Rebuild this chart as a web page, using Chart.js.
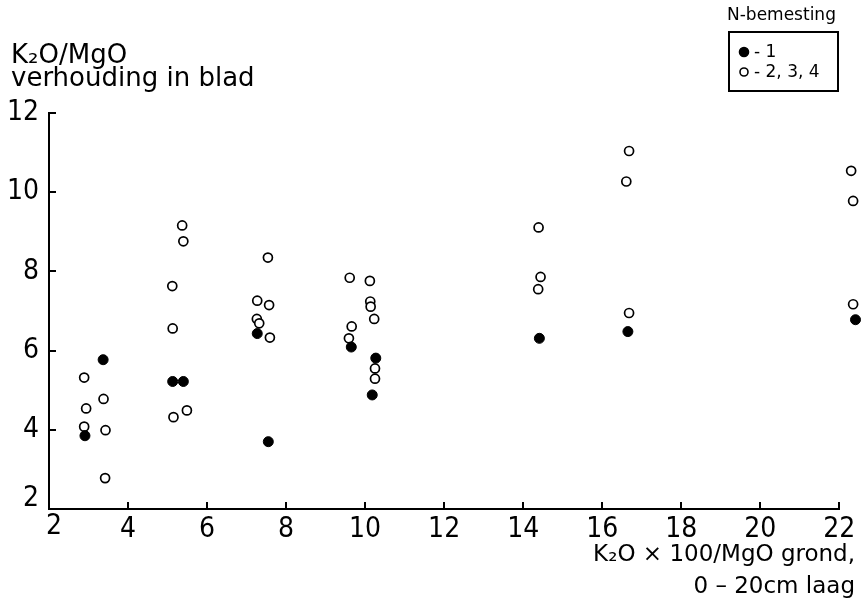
<!DOCTYPE html>
<html>
<head>
<meta charset="utf-8">
<script src="https://cdn.jsdelivr.net/npm/chart.js@4/dist/chart.umd.min.js"></script>
<style>
  html, body { margin: 0; padding: 0; background: #fff; }
  #wrap { width: 865px; height: 609px; position: relative; }
</style>
</head>
<body>
<div id="wrap"><canvas id="c" width="865" height="609"></canvas></div>
<script>
// ---- data ----
const xTicks = [2, 4, 6, 8, 10, 12, 14, 16, 18, 20, 22];
const yTicks = [2, 4, 6, 8, 10, 12];

const seriesLabels = ['- 1', '- 2, 3, 4'];
const legendTitle = 'N-bemesting';
const yTitleLines = ['K\u2082O/MgO', 'verhouding in blad'];
const xTitleLines = ['K\u2082O \u00d7 100/MgO grond,', '0 \u2013 20cm laag'];

// N-bemesting 1 (filled dots)
const n1X = [2.91, 3.37, 5.13, 5.40, 7.27, 7.55, 9.65, 10.27, 10.18, 14.41, 16.65, 22.41];
const n1Y = [3.85, 5.77, 5.22, 5.22, 6.43, 3.70, 6.09, 5.81, 4.88, 6.31, 6.48, 6.78];

// N-bemesting 2, 3, 4 (open circles)
const n234X = [2.89, 2.94, 2.89, 3.38, 3.43, 3.42,
               5.12, 5.13, 5.15, 5.49, 5.37, 5.40,
               7.27, 7.57, 7.26, 7.32, 7.59, 7.54,
               9.61, 9.66, 9.59, 10.12, 10.13, 10.14, 10.23, 10.25, 10.25,
               14.39, 14.44, 14.38,
               16.68, 16.61, 16.68,
               22.30, 22.35, 22.35];
const n234Y = [5.32, 4.54, 4.08, 4.78, 3.99, 2.78,
               7.63, 6.56, 4.32, 4.49, 9.16, 8.76,
               7.26, 7.15, 6.80, 6.69, 6.33, 8.35,
               7.84, 6.61, 6.31, 7.76, 7.24, 7.11, 6.80, 5.55, 5.29,
               9.11, 7.86, 7.55,
               11.04, 10.27, 6.95,
               10.54, 9.78, 7.17];

const toPts = (xs, ys) => xs.map((x, i) => ({ x: x, y: ys[i] }));

const TICK_FONT = "'Liberation Sans Narrow', 'DejaVu Sans Condensed', 'Liberation Sans', sans-serif";
const TEXT_FONT = "'DejaVu Sans', 'Liberation Sans', sans-serif";
const X_END = 22; // visible end of the x axis line

// axis line, inward tick marks, titles and boxed legend
const decorPlugin = {
  id: 'decor',
  afterDraw(chart) {
    const ctx = chart.ctx;
    const xs = chart.scales.x, ys = chart.scales.y;
    const area = chart.chartArea;
    ctx.save();
    ctx.strokeStyle = '#000';
    ctx.lineWidth = 2;
    ctx.beginPath();
    // x axis line up to 22
    ctx.moveTo(area.left - 1, area.bottom);
    ctx.lineTo(Math.round(xs.getPixelForValue(X_END)) + 1, area.bottom);
    xTicks.forEach(v => {
      const px = Math.round(xs.getPixelForValue(v));
      ctx.moveTo(px, area.bottom);
      ctx.lineTo(px, area.bottom - 7);
    });
    yTicks.forEach(v => {
      const py = Math.round(ys.getPixelForValue(v));
      ctx.moveTo(area.left, py);
      ctx.lineTo(area.left + 7, py);
    });
    ctx.stroke();

    // shifted origin labels (as in the original)
    ctx.fillStyle = '#000';
    ctx.font = "28px " + TICK_FONT;
    ctx.textBaseline = 'middle';
    ctx.textAlign = 'right';
    ctx.fillText(String(yTicks[0]), area.left - 10, ys.getPixelForValue(yTicks[0]) - 10);
    ctx.textAlign = 'center';
    ctx.textBaseline = 'top';
    ctx.fillText(String(xTicks[0]), xs.getPixelForValue(xTicks[0]) + 5, area.bottom + 4);

    // y-axis title (top left, horizontal)
    ctx.textBaseline = 'alphabetic';
    ctx.textAlign = 'left';
    ctx.font = "26px " + TEXT_FONT;
    ctx.fillText(yTitleLines[0], 11, 63);
    ctx.fillText(yTitleLines[1], 11, 86);

    // x-axis title (bottom right)
    ctx.textAlign = 'right';
    ctx.font = "23px " + TEXT_FONT;
    ctx.fillText(xTitleLines[0], 855, 561);
    ctx.fillText(xTitleLines[1], 855, 593);

    // legend
    ctx.font = "17px " + TEXT_FONT;
    ctx.textAlign = 'left';
    ctx.textBaseline = 'middle';
    ctx.fillText(legendTitle, 727, 16);
    ctx.lineWidth = 2;
    ctx.strokeRect(729, 32, 109, 59);
    const ds = chart.data.datasets;
    const rows = [52, 72];
    ds.forEach((d, i) => {
      ctx.beginPath();
      ctx.arc(744, rows[i], i === 0 ? 4.5 : 4, 0, Math.PI * 2);
      ctx.fillStyle = d.backgroundColor;
      ctx.fill();
      ctx.lineWidth = 1.6;
      ctx.strokeStyle = '#000';
      ctx.stroke();
      ctx.fillStyle = '#000';
      ctx.fillText(d.label, 754, rows[i] + 1);
    });
    ctx.restore();
  }
};

new Chart(document.getElementById('c'), {
  type: 'scatter',
  data: {
    datasets: [
      {
        label: seriesLabels[0],
        data: toPts(n1X, n1Y),
        backgroundColor: '#000',
        borderColor: '#000',
        borderWidth: 1,
        pointRadius: 5,
        pointHoverRadius: 5,
        clip: false
      },
      {
        label: seriesLabels[1],
        data: toPts(n234X, n234Y),
        backgroundColor: '#fff',
        borderColor: '#000',
        borderWidth: 1.7,
        pointRadius: 4.5,
        pointHoverRadius: 4.5,
        clip: false
      }
    ]
  },
  options: {
    responsive: false,
    animation: false,
    events: [],
    layout: { autoPadding: false, padding: { top: 113, right: 2, left: 0, bottom: 0 } },
    plugins: {
      legend: { display: false },
      tooltip: { enabled: false },
      title: { display: false }
    },
    scales: {
      x: {
        type: 'linear',
        min: 2, max: 22.6,
        afterBuildTicks: s => { s.ticks = xTicks.map(v => ({ value: v })); },
        afterFit: s => { s.height = 100; },
        grid: { display: false, drawTicks: false },
        border: { display: false },
        ticks: {
          color: '#000',
          padding: 4,
          font: { family: TICK_FONT, size: 28 },
          callback: v => (v === xTicks[0] ? '' : String(v))
        }
      },
      y: {
        type: 'linear',
        min: 2, max: 12,
        afterBuildTicks: s => { s.ticks = yTicks.map(v => ({ value: v })); },
        afterFit: s => { s.width = 49; },
        grid: { display: false, drawTicks: false },
        border: { display: true, color: '#000', width: 2 },
        ticks: {
          color: '#000',
          padding: 10,
          font: { family: TICK_FONT, size: 28 },
          callback: v => (v === yTicks[0] ? '' : String(v))
        }
      }
    }
  },
  plugins: [decorPlugin]
});
</script>
</body>
</html>
